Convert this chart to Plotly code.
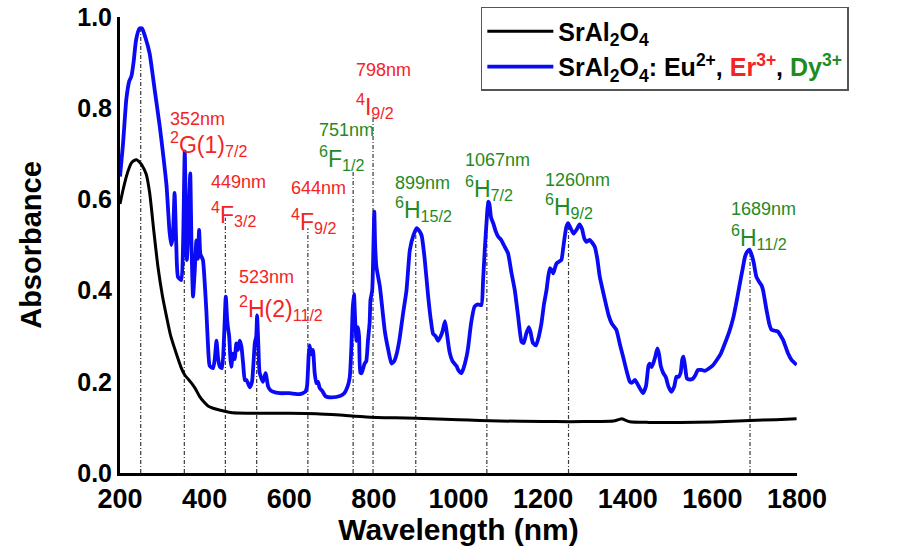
import plotly.graph_objects as go

# ---------------- data ----------------
blue_x = [200, 207, 215, 222, 227, 232, 238, 246, 252, 260, 270, 282, 294, 303, 310, 317, 321, 325, 329, 333,
          337, 345, 349, 353, 356, 358, 362, 366, 369, 372.6, 377, 380.6, 384, 387, 390, 396, 400, 404, 408, 412,
          420, 424, 428, 432, 436, 441, 446, 450, 453, 455, 458, 461, 463, 467, 471, 475, 479, 483, 487, 491,
          495, 499, 506.6, 512, 518.6, 522, 524, 527, 530, 538, 544, 550, 555, 562, 578, 600, 625, 638, 642, 646,
          648, 652, 656, 660, 664, 668, 672, 678, 686, 700, 720, 730, 738, 743, 747, 750, 753, 756, 759, 762.6,
          765, 768, 771, 778, 782, 786, 790, 792, 796, 799, 801, 803, 806, 814, 820, 826, 834, 841.6, 848, 853,
          860, 869, 877, 885, 893, 901, 908, 913, 920, 928, 934, 940, 946, 952, 958, 962, 968, 972, 979, 986,
          995, 1000, 1007, 1012, 1019, 1023, 1030, 1038, 1046, 1054, 1058, 1062, 1067, 1070, 1073, 1077, 1082, 1088, 1094, 1101,
          1107, 1117, 1125, 1133, 1141, 1149, 1154, 1160, 1166, 1170, 1176, 1183, 1190, 1196, 1202, 1208, 1212, 1216, 1220, 1224,
          1228, 1232, 1243, 1247, 1251, 1255, 1259, 1266, 1272, 1280, 1286, 1292, 1297, 1302, 1310, 1316, 1322, 1328, 1334, 1346,
          1355, 1362, 1373, 1382, 1389, 1397, 1405, 1410, 1417, 1426, 1436, 1443, 1449, 1452, 1456, 1460, 1465, 1470, 1474, 1478,
          1484, 1490, 1496, 1503, 1510, 1515, 1520, 1525, 1529, 1532, 1536, 1540, 1547, 1554, 1560, 1566, 1574, 1582, 1590, 1602,
          1612, 1620, 1630, 1640, 1650, 1658, 1665, 1672, 1677, 1682, 1688, 1694, 1698, 1704, 1710, 1716, 1720, 1728, 1735, 1740,
          1748, 1755, 1762, 1767, 1773, 1779, 1787, 1799]
blue_y = [0.65, 0.72, 0.82, 0.86, 0.87, 0.90, 0.95, 0.975, 0.975, 0.955, 0.92, 0.84, 0.76, 0.69, 0.63, 0.53, 0.50, 0.52, 0.614, 0.50,
          0.43, 0.423, 0.50, 0.705, 0.55, 0.467, 0.55, 0.657, 0.50, 0.387, 0.45, 0.51, 0.47, 0.533, 0.48, 0.467, 0.42, 0.357, 0.28, 0.235,
          0.23, 0.25, 0.29, 0.25, 0.233, 0.23, 0.30, 0.387, 0.34, 0.32, 0.30, 0.25, 0.233, 0.262, 0.25, 0.284, 0.27, 0.29, 0.277, 0.24,
          0.204, 0.204, 0.188, 0.20, 0.285, 0.30, 0.345, 0.28, 0.22, 0.20, 0.219, 0.19, 0.182, 0.178, 0.175, 0.175, 0.173, 0.178, 0.19, 0.26,
          0.28, 0.26, 0.27, 0.22, 0.197, 0.20, 0.186, 0.18, 0.168, 0.166, 0.169, 0.175, 0.19, 0.21, 0.28, 0.36, 0.392, 0.33, 0.29, 0.32,
          0.30, 0.22, 0.219, 0.24, 0.245, 0.29, 0.33, 0.38, 0.40, 0.50, 0.573, 0.50, 0.452, 0.41, 0.36, 0.31, 0.27, 0.24, 0.245, 0.258,
          0.29, 0.35, 0.40, 0.489, 0.52, 0.537, 0.53, 0.52, 0.47, 0.39, 0.34, 0.305, 0.30, 0.29, 0.30, 0.31, 0.333, 0.31, 0.265, 0.245,
          0.235, 0.225, 0.219, 0.23, 0.255, 0.277, 0.33, 0.365, 0.37, 0.368, 0.42, 0.489, 0.56, 0.595, 0.59, 0.56, 0.548, 0.53, 0.518, 0.511,
          0.50, 0.482, 0.44, 0.401, 0.343, 0.288, 0.285, 0.305, 0.32, 0.31, 0.285, 0.28, 0.30, 0.328, 0.37, 0.401, 0.43, 0.449, 0.445, 0.438,
          0.45, 0.46, 0.467, 0.49, 0.518, 0.54, 0.548, 0.535, 0.525, 0.535, 0.545, 0.535, 0.515, 0.507, 0.511, 0.505, 0.496, 0.47, 0.43, 0.38,
          0.345, 0.328, 0.314, 0.28, 0.255, 0.225, 0.20, 0.198, 0.204, 0.19, 0.175, 0.19, 0.235, 0.24, 0.232, 0.24, 0.255, 0.273, 0.26, 0.235,
          0.219, 0.21, 0.19, 0.178, 0.19, 0.211, 0.211, 0.22, 0.25, 0.255, 0.23, 0.207, 0.205, 0.207, 0.215, 0.226, 0.226, 0.224, 0.228, 0.237,
          0.25, 0.262, 0.285, 0.31, 0.343, 0.38, 0.416, 0.45, 0.474, 0.485, 0.49, 0.475, 0.46, 0.43, 0.42, 0.412, 0.40, 0.357, 0.325, 0.314,
          0.312, 0.31, 0.30, 0.292, 0.277, 0.262, 0.248, 0.237]

black_x = [200, 207, 215, 222, 227, 233, 239, 245, 252, 262, 270, 280, 290, 300, 310, 320, 333, 345, 353, 362,
           369, 378, 388, 398, 408, 420, 435, 450, 467, 500, 546, 600, 664, 720, 782, 850, 900, 1000, 1050, 1097,
           1200, 1263, 1330, 1366, 1378, 1386, 1394, 1405, 1450, 1523, 1600, 1689, 1750, 1799]
black_y = [0.59, 0.62, 0.65, 0.67, 0.68, 0.685, 0.687, 0.683, 0.675, 0.655, 0.615, 0.53, 0.45, 0.39, 0.343, 0.30, 0.262, 0.23, 0.215, 0.205,
           0.197, 0.185, 0.168, 0.156, 0.147, 0.142, 0.138, 0.135, 0.132, 0.131, 0.131, 0.131, 0.13, 0.127, 0.123, 0.121, 0.12, 0.117, 0.115, 0.114,
           0.113, 0.1125, 0.113, 0.114, 0.117, 0.119, 0.116, 0.1125, 0.111, 0.111, 0.112, 0.115, 0.117, 0.119]

peak_nm = [249, 352, 449, 523, 644, 751, 798, 899, 1067, 1260, 1689]
peak_top = [0.975, 0.70, 0.56, 0.35, 0.537, 0.665, 0.79, 0.537, 0.595, 0.548, 0.49]
peak_labels = ["249nm", "352nm", "449nm", "523nm", "644nm", "751nm", "798nm", "899nm", "1067nm", "1260nm", "1689nm"]
term_labels = ["", "<sup>2</sup>G(1)<sub>7/2</sub>", "<sup>4</sup>F<sub>3/2</sub>", "<sup>2</sup>H(2)<sub>11/2</sub>",
               "<sup>4</sup>F<sub>9/2</sub>", "<sup>6</sup>F<sub>1/2</sub>", "<sup>4</sup>I<sub>9/2</sub>",
               "<sup>6</sup>H<sub>15/2</sub>", "<sup>6</sup>H<sub>7/2</sub>", "<sup>6</sup>H<sub>9/2</sub>",
               "<sup>6</sup>H<sub>11/2</sub>"]
ion = ["host", "Er", "Er", "Er", "Er", "Dy", "Er", "Dy", "Dy", "Dy", "Dy"]

x_ticks = [200, 400, 600, 800, 1000, 1200, 1400, 1600, 1800]
y_ticks = [0.0, 0.2, 0.4, 0.6, 0.8, 1.0]

# ---------------- layout of labels ----------------
RED = "#F42424"
GREEN = "#1F8B24"
ion_color = {"host": "#333333", "Er": RED, "Dy": GREEN}
label_x = [223, 313, 410, 476, 599, 665, 753, 845, 1010, 1199, 1639]
nm_y = [1.010, 0.776, 0.638, 0.429, 0.624, 0.752, 0.883, 0.635, 0.686, 0.642, 0.578]
term_y = [None, 0.722, 0.568, 0.362, 0.553, 0.690, 0.805, 0.579, 0.625, 0.586, 0.518]

FONT = "Liberation Sans, Arial, sans-serif"

fig = go.Figure()
fig.add_trace(go.Scatter(x=black_x, y=black_y, mode="lines",
                         line=dict(color="black", width=3, shape="spline", smoothing=0.6),
                         name="<b>SrAl<sub>2</sub>O<sub>4</sub></b>", legendgroup="a"))
fig.add_trace(go.Scatter(x=blue_x, y=blue_y, mode="lines",
                         line=dict(color="#0A0AF5", width=3.8, shape="spline", smoothing=0.5),
                         name=("<b>SrAl<sub>2</sub>O<sub>4</sub>: Eu<sup>2+</sup>, "
                               f"<span style='color:{RED}'>Er<sup>3+</sup></span>, "
                               f"<span style='color:{GREEN}'>Dy<sup>3+</sup></span></b>"),
                         legendgroup="b"))

for nm, top in zip(peak_nm, peak_top):
    fig.add_shape(type="line", xref="x", yref="y", x0=nm, x1=nm, y0=0, y1=top,
                  line=dict(color="#3a3a3a", width=1.2, dash="4px,2px,1px,2px"), layer="below")

for i in range(len(peak_nm)):
    col = ion_color[ion[i]]
    fig.add_annotation(x=label_x[i], y=nm_y[i], xref="x", yref="y", text=peak_labels[i],
                       showarrow=False, xanchor="left", yanchor="middle",
                       font=dict(family=FONT, size=18, color=col))
    if term_labels[i]:
        fig.add_annotation(x=label_x[i], y=term_y[i], xref="x", yref="y", text=term_labels[i],
                           showarrow=False, xanchor="left", yanchor="middle",
                           font=dict(family=FONT, size=23, color=col))

fig.update_layout(
    width=897, height=546,
    margin=dict(l=120, r=100, t=17, b=73, autoexpand=False),
    paper_bgcolor="white", plot_bgcolor="white",
    font=dict(family=FONT, color="black"),
    showlegend=True,
    legend=dict(x=0.533, y=1.022, xanchor="left", yanchor="top",
                bordercolor="#555555", borderwidth=1.5, bgcolor="white",
                font=dict(family=FONT, size=25, color="black"),
                itemwidth=66, tracegroupgap=0),
)
fig.update_xaxes(range=[200, 1800], tickvals=x_ticks, ticktext=[str(v) for v in x_ticks],
                 showline=True, linecolor="black", linewidth=3, showgrid=False, zeroline=False,
                 ticks="", tickfont=dict(family=FONT, size=27, color="black", weight="bold"),
                 title=dict(text="<b>Wavelength (nm)</b>", font=dict(family=FONT, size=30), standoff=0))
fig.update_yaxes(range=[0, 1.0], tickvals=y_ticks, ticktext=[f"{v:.1f}" for v in y_ticks],
                 showline=True, linecolor="black", linewidth=3, showgrid=False, zeroline=False,
                 ticks="", tickfont=dict(family=FONT, size=25, color="black", weight="bold"),
                 title=dict(text="<b>Absorbance</b>", font=dict(family=FONT, size=29), standoff=28))

fig.write_html("out.html")
